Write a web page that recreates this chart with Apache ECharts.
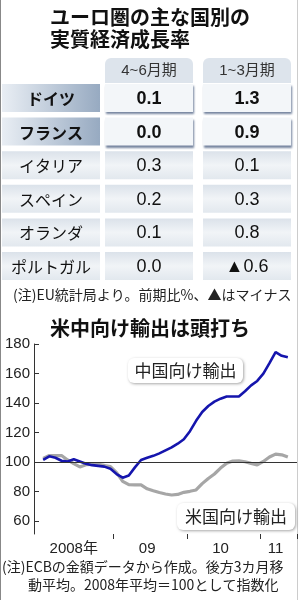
<!DOCTYPE html>
<html><head><meta charset="utf-8">
<script src="https://cdn.jsdelivr.net/npm/echarts@6/dist/echarts.min.js"></script>
<style>html,body{margin:0;padding:0;background:#fff}#c{width:300px;height:600px}</style>
</head><body><div id="c"></div>
<script>
// ---- table data ----
const countries = ['ドイツ','フランス','イタリア','スペイン','オランダ','ポルトガル'];
const periods = ['4~6月期','1~3月期'];
const growthQ2 = [0.1, 0.0, 0.3, 0.2, 0.1, 0.0];
const growthQ1 = [1.3, 0.9, 0.1, 0.3, 0.8, -0.6];

// ---- line chart data (monthly, Jan 2008 - May 2011) ----
const chinaExports = [101.6,104,103,101,100.5,102,100.5,99,98,97.5,97,95.5,92,89.5,91,96.5,101.5,103,104.3,106,108,110,112.5,115.5,121,128,134,138,141,143,144.5,144.5,144.5,148,152,155,160,167,174.5,172,171];
const usExports    = [102.5,104.5,104.5,104.5,101.5,99,96.8,98.3,98.5,98.5,97.8,97,93,87,84.8,84.6,84.6,82,80.7,79.5,78.5,77.8,78.2,79.6,80.3,81.2,85.5,89,92,96,99.3,100.8,100.9,100.3,99.2,98.2,100.5,103.5,105.5,105,103.5];
const yTickValues = [60,80,100,120,140,160,180];
const xTickLabels = ['2008年','09','10','11'];
const xLabelMonths = ['2008-06','2009-06','2010-06','2011-03'];
const yearStartMonths = ['2009-01','2010-01','2011-01'];

// month categories with one blank slot before and after
const months = [''];
for (let y = 2008; y <= 2011; y++) for (let m = 1; m <= 12; m++) {
  if (y === 2011 && m > 5) break;
  months.push(y + '-' + String(m).padStart(2,'0'));
}
months.push(' ');
const pad = arr => [null].concat(arr).concat([null]);

const fmt = v => v < 0 ? '▲' + Math.abs(v).toFixed(1) : v.toFixed(1);
const tableTexts = [], tableData = [];
countries.forEach((c, r) => {
  [c, fmt(growthQ2[r]), fmt(growthQ1[r])].forEach((t, col) => {
    tableTexts.push(t); tableData.push([col, r]);
  });
});

const JP = '"Noto Sans CJK JP", sans-serif';
const NUM = '"Liberation Sans", "Noto Sans CJK JP", sans-serif';

function renderCell(params, api) {
  const col = api.value(0), row = api.value(1);
  const p = api.coord([col, row]);
  const bw = api.size([1, 1]);
  const strong = row < 2;
  const h = 28, top = p[1] - bw[1] / 2;
  let x, w;
  if (col === 0) { x = p[0] - bw[0] / 2; w = bw[0]; } else { w = 88; x = p[0] - w / 2; }
  let fill, shadow = {};
  if (strong && col === 0) {
    fill = new echarts.graphic.LinearGradient(0,0,1,0,[{offset:0,color:'#e9eef4'},{offset:1,color:'#97aac1'}]);
  } else if (strong) {
    fill = '#f3f6f9';
    shadow = {shadowColor:'rgba(70,90,125,0.75)', shadowBlur:2, shadowOffsetX:1, shadowOffsetY:2};
  } else {
    fill = new echarts.graphic.LinearGradient(0,0,0,1,[{offset:0,color:'#dbe2ea'},{offset:0.5,color:'#f1f4f7'},{offset:1,color:'#e2e8ee'}]);
  }
  const txt = tableTexts[params.dataIndex];
  return {
    type: 'group',
    children: [
      {type:'rect', shape:{x:x, y:top, width:w, height:h}, style:Object.assign({fill:fill}, shadow)},
      {type:'text', style:{text:txt, x:p[0], y:top + h/2 + 1, align:'center', verticalAlign:'middle',
        fontSize: col === 0 ? 16 : 18, fontWeight: strong ? 'bold' : 'normal',
        fontFamily: col === 0 ? JP : NUM, fill:'#111'}}
    ]
  };
}

const chart = echarts.init(document.getElementById('c'), null, {renderer:'canvas'});
chart.setOption({
  animation: false,
  textStyle: {fontFamily: NUM},
  grid: [
    {left:34, right:3, top:344, bottom:66},
    {left:2, width:294, top:84, height:201.6}
  ],
  xAxis: [
    {type:'category', gridIndex:0, data:months, boundaryGap:true,
     axisLine:{show:false},
     axisTick:{show:true, length:5, interval:(i, v) => yearStartMonths.indexOf(v) >= 0, lineStyle:{color:'#333'}},
     axisLabel:{interval:(i, v) => xLabelMonths.indexOf(v) >= 0, formatter:v => { const k = xLabelMonths.indexOf(v); return k >= 0 ? xTickLabels[k] : ''; },
       fontSize:15, color:'#222', margin:7}},
    {type:'category', gridIndex:1, data:[''].concat(periods), position:'top',
     axisLine:{show:false}, axisTick:{show:false},
     axisLabel:{interval:0, margin:1, formatter:v => v ? '{h|' + v + '}' : '',
       rich:{h:{backgroundColor:'#dde4ec', borderRadius:[6,6,0,0], width:88, height:25, lineHeight:25, align:'center', fontSize:15, color:'#333', fontFamily:NUM}}}}
  ],
  yAxis: [
    {type:'value', gridIndex:0, min:51.4, max:180,
     axisLine:{show:true, lineStyle:{color:'#333', width:1}},
     axisTick:{show:true, inside:true, length:5, customValues:yTickValues, lineStyle:{color:'#333'}},
     axisLabel:{customValues:yTickValues, fontSize:15, color:'#222', margin:4},
     splitLine:{show:false}},
    {type:'category', gridIndex:1, data:countries, inverse:true, show:false}
  ],
  series: [
    {type:'line', name:'米国向け輸出', xAxisIndex:0, yAxisIndex:0, data:pad(usExports), showSymbol:false, symbol:'none',
     lineStyle:{color:'#a6a6a6', width:3.2}, z:2,
     markLine:{silent:true, symbol:'none', label:{show:false}, lineStyle:{color:'#333', width:1, type:'solid'}, data:[{yAxis:100}]}},
    {type:'line', name:'中国向け輸出', xAxisIndex:0, yAxisIndex:0, data:pad(chinaExports), showSymbol:false, symbol:'none',
     lineStyle:{color:'#1515ad', width:2.6}, z:3},
    {type:'custom', xAxisIndex:1, yAxisIndex:1, data:tableData, renderItem:renderCell, encode:{x:0, y:1}}
  ],
  graphic: [
    {type:'line', shape:{x1:0.5, y1:0, x2:0.5, y2:600}, style:{stroke:'#888', lineWidth:1}},
    {type:'line', shape:{x1:297.5, y1:0, x2:297.5, y2:600}, style:{stroke:'#ccc', lineWidth:1}},
    {type:'text', left:50, top:7, style:{text:'ユーロ圏の主な国別の', font:'bold 20px ' + JP, fill:'#111'}},
    {type:'text', left:50, top:29, style:{text:'実質経済成長率', font:'bold 20px ' + JP, fill:'#111'}},
    {type:'text', left:13, top:288, style:{text:'(注)EU統計局より。前期比%、▲はマイナス', font:'14px ' + JP, fill:'#222'}},
    {type:'text', left:50, top:318, style:{text:'米中向け輸出は頭打ち', font:'bold 20px ' + JP, fill:'#111'}},
    {type:'rect', left:128, top:358, shape:{width:115, height:25, r:6}, style:{fill:'#fff', shadowColor:'rgba(0,0,0,0.35)', shadowBlur:3, shadowOffsetX:1, shadowOffsetY:1}},
    {type:'text', x:185.5, y:371, style:{text:'中国向け輸出', font:'17px ' + JP, fill:'#222', align:'center', verticalAlign:'middle'}},
    {type:'rect', left:177, top:503, shape:{width:118, height:27, r:6}, style:{fill:'#fff', shadowColor:'rgba(0,0,0,0.35)', shadowBlur:3, shadowOffsetX:1, shadowOffsetY:1}},
    {type:'text', x:236, y:517, style:{text:'米国向け輸出', font:'17px ' + JP, fill:'#222', align:'center', verticalAlign:'middle'}},
    {type:'text', left:2, top:560, style:{text:'(注)ECBの金額データから作成。後方3カ月移', font:'14px ' + JP, fill:'#222'}},
    {type:'text', left:28, top:578, style:{text:'動平均。2008年平均＝100として指数化', font:'14px ' + JP, fill:'#222'}}
  ]
});
</script>
</body></html>
